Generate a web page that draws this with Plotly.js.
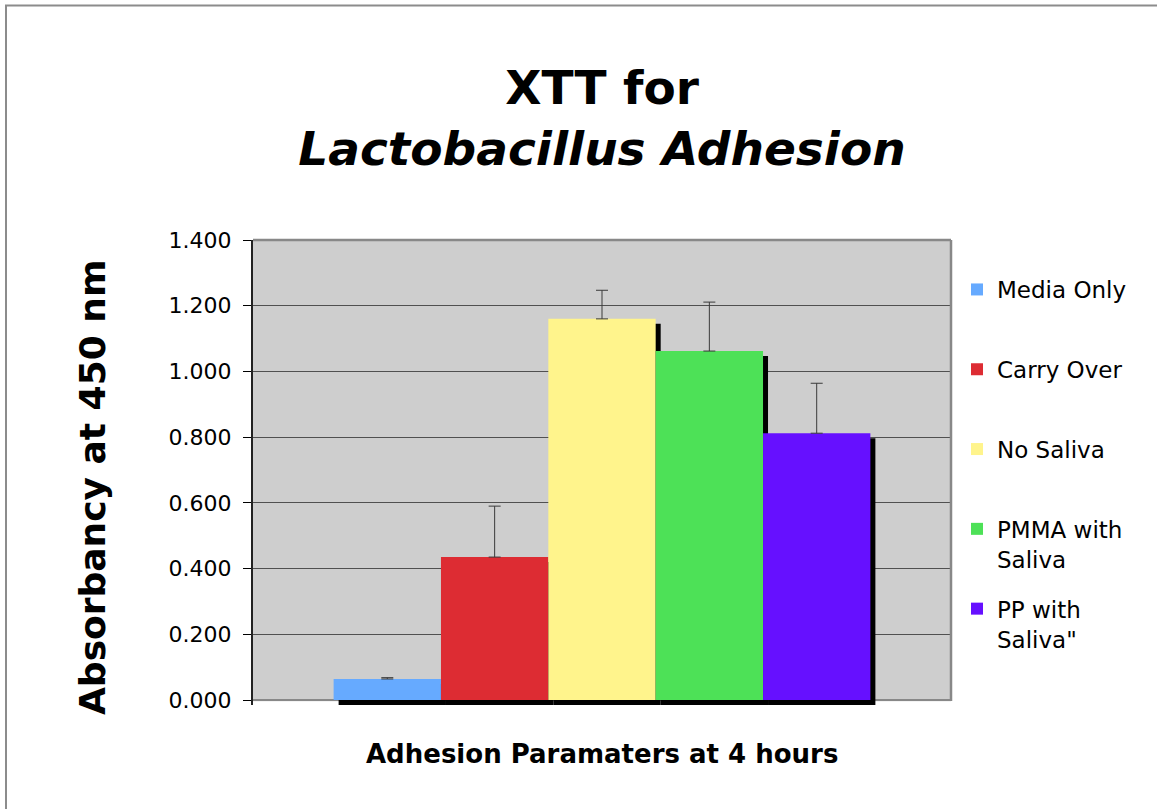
<!DOCTYPE html>
<html>
<head>
<meta charset="utf-8">
<script src="https://cdn.plot.ly/plotly-3.0.1.min.js"></script>
<style>
  html, body { margin: 0; padding: 0; background: #ffffff; }
  #chart { width: 1157px; height: 809px; }
</style>
</head>
<body>
<div id="chart"></div>
<script>
// ---- data ----
const categories = ['Adhesion Paramaters at 4 hours'];
const seriesNames = ['Media Only', 'Carry Over', 'No Saliva', 'PMMA with<br>Saliva', 'PP with<br>Saliva"'];
const seriesValues = [0.064, 0.435, 1.160, 1.062, 0.812];
const seriesErrors = [0.004, 0.155, 0.087, 0.149, 0.152];
const seriesColors = ['#66AAFF', '#DD2C33', '#FFF48C', '#4DE157', '#6610FF'];
const yTickValues = [0, 0.2, 0.4, 0.6, 0.8, 1.0, 1.2, 1.4];

// ---- layout geometry (pixels) ----
const W = 1157, H = 809;
const shadowPx = 5;
const M = {l: 253, r: 206, t: 240, b: 109 - shadowPx};
const plotW = W - M.l - M.r;          // 698
const plotH = H - M.t - M.b;          // 465 (includes 5px shadow strip)
const yMax = 1.4;
const pxPerUnit = (plotH - shadowPx) / yMax;
const dx = shadowPx / plotW;          // category units (range width 1)
const dy = shadowPx / pxPerUnit;      // data units
const zeroPy = M.t + plotH - shadowPx; // pixel row of y = 0

const FONT = 'DejaVu Sans, Verdana, sans-serif';

// Legend labels: make every entry two lines so items are evenly spaced
const legendLabels = seriesNames.map(n => n.indexOf('<br>') >= 0 ? n : n + '<br>&nbsp;');

const traces = [];
// drop shadows (behind, on primary x axis shifted right, base shifted down)
seriesValues.forEach((v, i) => {
  traces.push({
    type: 'bar',
    x: categories,
    y: [v],
    base: [-dy],
    xaxis: 'x', yaxis: 'y',
    marker: {color: '#000000', line: {width: 0}},
    showlegend: false,
    legendgroup: 'g' + i,
    hoverinfo: 'skip'
  });
});
// main bars
seriesValues.forEach((v, i) => {
  traces.push({
    type: 'bar',
    name: legendLabels[i],
    x: categories,
    y: [v],
    xaxis: 'x2', yaxis: 'y',
    legendgroup: 'g' + i,
    marker: {color: seriesColors[i], line: {width: 0}},
    error_y: {
      type: 'data', symmetric: false,
      array: [seriesErrors[i]], arrayminus: [0],
      color: '#3a3a3a', thickness: 1, width: 6
    }
  });
});

const pyToPaper = py => (M.t + plotH - py) / plotH;

const layout = {
  width: W, height: H,
  margin: M,
  paper_bgcolor: '#ffffff',
  plot_bgcolor: '#CECECE',
  font: {family: FONT, color: '#000000'},
  barmode: 'group',
  bargap: 0.231,
  bargroupgap: 0,
  showlegend: true,
  title: {
    text: 'XTT for<br><i>Lactobacillus Adhesion</i>',
    font: {family: FONT, size: 47, weight: 'bold', color: '#000000'},
    xref: 'paper', x: 0.5, xanchor: 'center',
    yref: 'container', y: 1 - 104 / H, yanchor: 'top'
  },
  xaxis: {
    type: 'category',
    range: [-0.5 - dx, 0.5 - dx],
    showticklabels: false, ticks: '',
    showgrid: false, zeroline: false,
    showline: false,
    fixedrange: true
  },
  xaxis2: {
    type: 'category',
    overlaying: 'x', anchor: 'y',
    range: [-0.5, 0.5],
    visible: false,
    fixedrange: true
  },
  yaxis: {
    range: [-dy, yMax],
    tickvals: yTickValues,
    tickformat: '.3f',
    ticks: 'outside', ticklen: 8, tickwidth: 1, tickcolor: '#000000',
    ticklabelstandoff: 7,
    tickfont: {family: FONT, size: 22, color: '#000000'},
    showgrid: true, gridcolor: '#505050', gridwidth: 1,
    zeroline: true, zerolinecolor: '#888888', zerolinewidth: 2.5,
    showline: true, linecolor: '#222222', linewidth: 2,
    layer: 'below traces',
    fixedrange: true
  },
  legend: {
    xref: 'container', yref: 'container',
    x: 957 / W, xanchor: 'left',
    y: 1 - 268 / H, yanchor: 'top',
    font: {family: FONT, size: 23, color: '#000000'},
    valign: 'top',
    traceorder: 'grouped',
    tracegroupgap: 17,
    bgcolor: 'rgba(0,0,0,0)',
    borderwidth: 0
  },
  annotations: [
    {
      text: '<b>Absorbancy at 450 nm</b>',
      xref: 'paper', yref: 'paper',
      x: (92 - M.l) / plotW, y: pyToPaper(488),
      xanchor: 'center', yanchor: 'middle',
      textangle: -90, showarrow: false,
      font: {family: FONT, size: 36, color: '#000000'}
    },
    {
      text: '<b>Adhesion Paramaters at 4 hours</b>',
      xref: 'paper', yref: 'paper',
      x: 0.5, y: pyToPaper(754),
      xanchor: 'center', yanchor: 'middle',
      showarrow: false,
      font: {family: FONT, size: 26, color: '#000000'}
    }
  ],
  shapes: [
    // white strip under the plot area (below y = 0), under the shadows
    {type: 'rect', xref: 'x', yref: 'y', layer: 'below',
     x0: -2, x1: 2, y0: -3 * dy, y1: -1.3 / pxPerUnit,
     line: {width: 0}, fillcolor: '#ffffff'},
    // outer chart frame
    {type: 'rect', xref: 'paper', yref: 'paper', layer: 'below',
     x0: (6 - M.l) / plotW, x1: (W + 10 - M.l) / plotW,
     y0: pyToPaper(H + 10), y1: pyToPaper(5.5),
     line: {color: '#8C8C8C', width: 2}, fillcolor: 'rgba(0,0,0,0)'},
    // plot area top and right border
    {type: 'line', xref: 'paper', yref: 'paper', layer: 'above',
     x0: 0, x1: 1, y0: 1, y1: 1, line: {color: '#888888', width: 2.5}},
    {type: 'line', xref: 'paper', yref: 'paper', layer: 'above',
     x0: 1, x1: 1, y0: pyToPaper(zeroPy + 1), y1: 1, line: {color: '#888888', width: 2.5}}
  ]
};

Plotly.newPlot('chart', traces, layout, {displayModeBar: false, staticPlot: true});
</script>
</body>
</html>
